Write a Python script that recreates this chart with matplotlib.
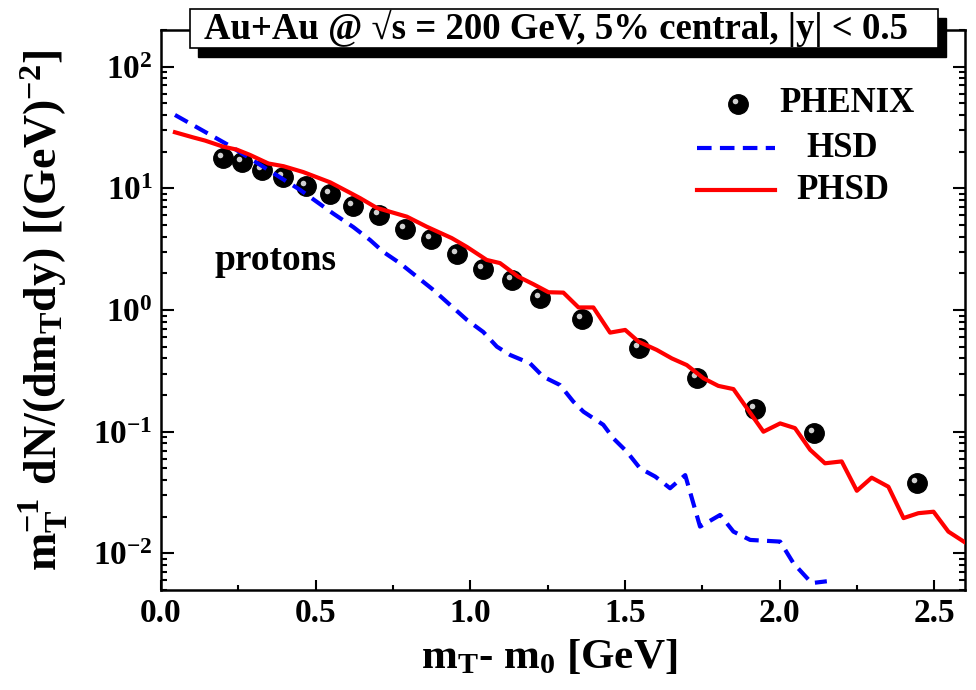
import numpy as np
import matplotlib
matplotlib.use("Agg")
import matplotlib.pyplot as plt
from matplotlib.patches import Rectangle
from matplotlib.lines import Line2D
from matplotlib import transforms

plt.rcParams['font.family'] = ['Liberation Serif', 'DejaVu Serif']
plt.rcParams['font.weight'] = 'bold'
plt.rcParams['mathtext.fontset'] = 'custom'
plt.rcParams['mathtext.rm'] = 'Liberation Serif:bold'
plt.rcParams['mathtext.it'] = 'Liberation Serif:bold'
plt.rcParams['mathtext.bf'] = 'Liberation Serif:bold'

# PHENIX protons, 5% central
phenix_x = [0.201, 0.261, 0.326, 0.396, 0.468, 0.547, 0.622, 0.704, 0.789, 0.872,
            0.956, 1.042, 1.134, 1.226, 1.361, 1.544, 1.733, 1.921, 2.110, 2.444]
phenix_y = [17.7, 16.4, 14.2, 12.3, 10.5, 9.0, 7.2, 6.0, 4.6, 3.8,
            2.87, 2.16, 1.77, 1.25, 0.84, 0.485, 0.278, 0.154, 0.097, 0.0377]

# HSD (dashed blue)
hsd_x = [0.045, 0.223, 0.450, 0.557, 0.622, 0.676, 0.719, 0.773, 0.827, 0.881,
         0.935, 0.989, 1.042, 1.086, 1.129, 1.193, 1.236, 1.290, 1.333, 1.366,
         1.430, 1.463, 1.506, 1.549, 1.598, 1.646, 1.695, 1.743, 1.808, 1.851,
         1.905, 2.002, 2.045, 2.104, 2.153]
hsd_y = [40.1, 22.3, 9.7, 6.2, 4.8, 3.76, 3.0, 2.42, 1.88, 1.46,
         1.10, 0.83, 0.66, 0.50, 0.427, 0.365, 0.283, 0.242, 0.177, 0.146,
         0.114, 0.088, 0.0686, 0.050, 0.0428, 0.0343, 0.044, 0.0166, 0.0207, 0.0151,
         0.0129, 0.0125, 0.0083, 0.0057, 0.0059]

# PHSD (solid red)
phsd_x = [0.045, 0.104, 0.142, 0.201, 0.245, 0.288, 0.347, 0.396, 0.460, 0.547,
          0.611, 0.644, 0.698, 0.795, 0.859, 0.940, 0.989, 1.053, 1.096, 1.155,
          1.204, 1.253, 1.301, 1.350, 1.398, 1.452, 1.501, 1.544, 1.603, 1.652,
          1.700, 1.754, 1.802, 1.851, 1.948, 2.002, 2.050, 2.099, 2.147, 2.201,
          2.250, 2.298, 2.352, 2.401, 2.449, 2.498, 2.546, 2.600]
phsd_y = [28.9, 26.2, 24.7, 22.0, 20.8, 18.8, 16.0, 15.2, 13.6, 11.2,
          9.2, 8.3, 6.9, 5.85, 4.84, 3.9, 3.3, 2.58, 2.43, 1.88,
          1.63, 1.40, 1.39, 1.05, 1.05, 0.652, 0.686, 0.55, 0.47, 0.40,
          0.353, 0.275, 0.238, 0.224, 0.100, 0.117, 0.107, 0.071, 0.055, 0.057,
          0.0327, 0.0419, 0.0353, 0.0195, 0.0214, 0.022, 0.0151, 0.0123]

xticks = [0.0, 0.5, 1.0, 1.5, 2.0, 2.5]
xticklabels = ['0.0', '0.5', '1.0', '1.5', '2.0', '2.5']
yticks = [1e-2, 1e-1, 1e0, 1e1, 1e2]
yticklabels = [r'$\mathrm{10^{-2}}$', r'$\mathrm{10^{-1}}$', r'$\mathrm{10^{0}}$',
               r'$\mathrm{10^{1}}$', r'$\mathrm{10^{2}}$']

fig = plt.figure(figsize=(9.76, 6.90), dpi=100)
ax = fig.add_axes([0.165, 0.1449, 0.8238, 0.8116])

ax.set_yscale('log')
ax.set_xlim(0, 2.6)
ax.set_ylim(0.005, 200)

# data points drawn as shiny black spheres
ax.plot(phenix_x, phenix_y, 'o', color='black', ms=14, zorder=2)
hl = transforms.offset_copy(ax.transData, fig=fig, x=-3, y=3, units='dots')
ax.plot(phenix_x, phenix_y, 'o', color='#d0d0d0', ms=4, mew=0, transform=hl, zorder=2)

ax.plot(hsd_x, hsd_y, color='#0000ff', lw=3, dashes=(3.5, 2.0), zorder=3)
ax.plot(phsd_x, phsd_y, color='#ff0000', lw=3, zorder=3)

ax.set_xticks(xticks)
ax.set_xticklabels(xticklabels)
ax.set_xticks(np.arange(0.25, 2.6, 0.5), minor=True)
ax.set_yticks(yticks)
ax.set_yticklabels(yticklabels)
ax.tick_params(which='both', direction='in', left=True, right=True, top=False,
               width=1.5, labelsize=24, colors='black')
ax.tick_params(axis='x', which='major', length=7, pad=6)
ax.tick_params(axis='x', which='minor', length=3.6)
ax.tick_params(axis='y', which='major', length=9, pad=6)
ax.tick_params(axis='y', which='minor', length=4.5)
for lab in ax.get_xticklabels() + ax.get_yticklabels():
    lab.set_fontweight('bold')
for s in ax.spines.values():
    s.set_linewidth(1.8)

ax.set_xlabel(r'm$_\mathrm{T}$- m$_\mathrm{0}$ [GeV]', fontsize=31, fontweight='bold')
ax.set_ylabel(r'$\mathrm{m_T^{-1}\ dN/(dm_Tdy)\ [(GeV)^{-2}]}$', fontsize=33)
ax.xaxis.set_label_coords(0.4826, -0.085)
ax.yaxis.set_label_coords(-0.113, 0.5)

ax.text(0.142, 0.589, 'protons', transform=ax.transAxes, fontsize=27,
        fontweight='bold', ha='center', va='center')

# legend
ax.add_line(Line2D([0.718], [0.868], marker='o', color='black', ms=14, ls='none',
                   transform=ax.transAxes))
ax.add_line(Line2D([0.718], [0.868], marker='o', color='#d0d0d0', ms=4, mew=0, ls='none',
                   transform=transforms.offset_copy(ax.transAxes, fig=fig, x=-3, y=3, units='dots')))
ax.add_line(Line2D([0.667, 0.764], [0.789, 0.789], color='#0000ff', lw=3, dashes=(3.5, 2.0),
                   transform=ax.transAxes))
ax.add_line(Line2D([0.667, 0.764], [0.714, 0.714], color='#ff0000', lw=3,
                   transform=ax.transAxes))
for ty, tx, txt in [(0.868, 0.853, 'PHENIX'), (0.789, 0.847, 'HSD'), (0.714, 0.848, 'PHSD')]:
    ax.text(tx, ty, txt, transform=ax.transAxes, fontsize=25, fontweight='bold',
            ha='center', va='center')

# title box with shadow
fig.add_artist(Rectangle((0.2029, 0.9174), 0.7664, 0.0565, transform=fig.transFigure,
                         facecolor='black', edgecolor='black', zorder=5))
fig.add_artist(Rectangle((0.1947, 0.9304), 0.7664, 0.0565, transform=fig.transFigure,
                         facecolor='white', edgecolor='black', lw=1.2, zorder=6))
fig.text(0.570, 0.9586, 'Au+Au @ \u221As = 200 GeV, 5% central, |y| < 0.5',
         fontsize=26.5, fontweight='bold', ha='center', va='center', zorder=7)

fig.savefig('out.png', dpi=100)
